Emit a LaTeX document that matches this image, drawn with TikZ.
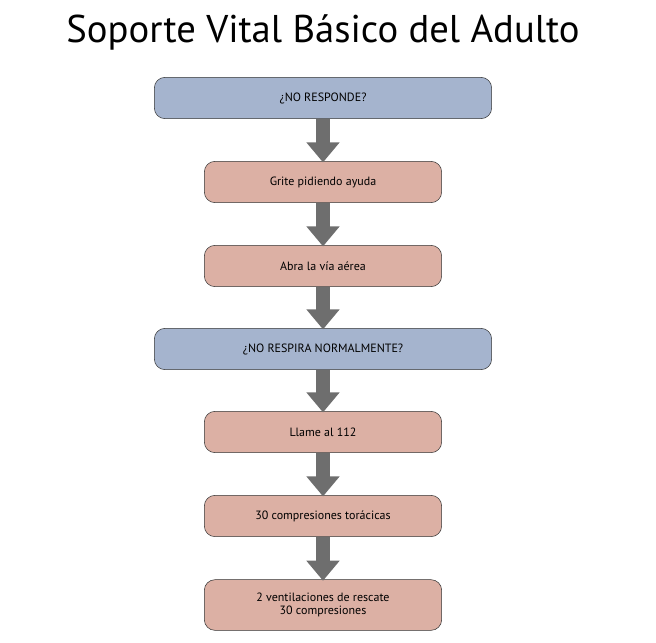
\documentclass[tikz,border=0pt]{standalone}
\usepackage{fontspec}
\setmainfont{PT Sans}
\usetikzlibrary{arrows.meta,positioning}
\definecolor{boxblue}{RGB}{165,180,206}
\definecolor{boxpink}{RGB}{220,176,164}
\definecolor{arrowgrey}{RGB}{110,110,110}
\tikzset{
  bluebox/.style={draw=black!80,fill=boxblue,rounded corners=8pt,minimum width=253pt,minimum height=31pt,font=\fontsize{9}{10}\selectfont},
  pinkbox/.style={draw=black!80,fill=boxpink,rounded corners=8pt,minimum width=178pt,minimum height=31pt,font=\fontsize{9}{10}\selectfont,align=center},
  down/.style={draw=arrowgrey,line width=11pt,-{Triangle[width=24pt,length=15pt]},shorten >=-1pt}
}
\begin{document}
\begin{tikzpicture}[x=0.75pt,y=-0.75pt]
\useasboundingbox (0,0) rectangle (656,642);
\node at (323,32) {\fontsize{29}{32}\selectfont Soporte Vital Básico del Adulto};
% boxes
\node[bluebox] (respond) at (323,98) {¿NO RESPONDE?};
\node[pinkbox] (grite) at (323,182) {Grite pidiendo ayuda};
\node[pinkbox] (abra) at (323,266) {Abra la vía aérea};
\node[bluebox] (respira) at (323,349) {¿NO RESPIRA NORMALMENTE?};
\node[pinkbox] (llame) at (323,432) {Llame al 112};
\node[pinkbox] (compr) at (323,516) {30 compresiones torácicas};
\node[pinkbox,minimum height=38pt] (vent) at (323,605) {2 ventilaciones de rescate\\30 compresiones};
% arrows
\foreach \a/\b in {respond/grite,grite/abra,abra/respira,respira/llame,llame/compr,compr/vent}
  \draw[down] (\a.south) -- (\b.north);
\end{tikzpicture}
\end{document}
